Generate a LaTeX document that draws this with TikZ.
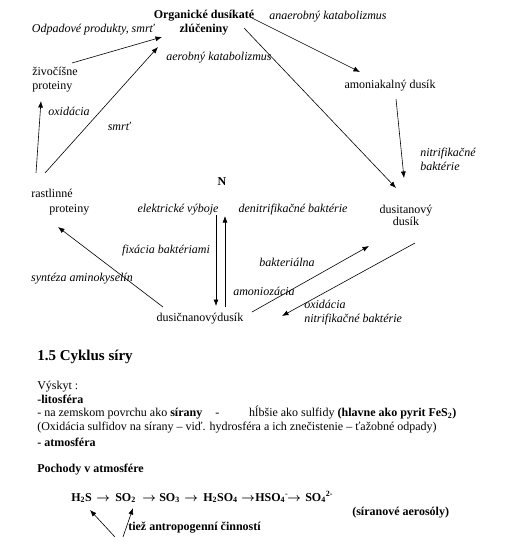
\documentclass[tikz,border=0pt]{standalone}
\usepackage{fontspec}
\setmainfont{Liberation Serif}
\usetikzlibrary{arrows.meta}
\newcommand{\sipka}{\mbox{\boldmath$\rightarrow$}}

\begin{document}
\fontsize{12}{13.5}\selectfont
\begin{tikzpicture}[x=1pt,y=-1pt,line width=0.6pt,
    >={Latex[length=6.5pt,width=5pt]},
    every node/.style={inner sep=0pt,anchor=base},
    lbl/.style={font=\itshape},
    hd/.style={font=\bfseries}]
\useasboundingbox (0,0) rectangle (529,542);

% nitrogen cycle
\node[hd,align=center] (org) at (204,32) {Organické dusíkaté\\zlúčeniny};
\node[lbl] (odpad) at (93,32) {Odpadové produkty, smrť};
\node[lbl] (aerob) at (219,60) {aerobný katabolizmus};
\node[lbl] (anaer) at (328,19) {anaerobný katabolizmus};
\node[align=left,anchor=base west] (zivo) at (32,89) {živočíšne\\proteiny};
\node[lbl] (oxid) at (69,115) {oxidácia};
\node[lbl] (smrt) at (119,130) {smrť};
\node (amon) at (390,88) {amoniakalný dusík};
\node[lbl,align=left,anchor=base west] (nitr) at (420,170) {nitrifikačné\\baktérie};
\node[align=center] (dusit) at (406,225) {dusitanový\\[-1.5pt]dusík};
\node[hd] (n) at (222,185) {N};
\node[align=left,anchor=base west] (rast) at (31,212) {rastlinné\\[1.5pt]\hspace*{18pt}proteiny};
\node[lbl] (elek) at (178,212) {elektrické výboje};
\node[lbl] (denit) at (293,212) {denitrifikačné baktérie};
\node[lbl] (fix) at (166,253) {fixácia baktériami};
\node[lbl] (synt) at (82,281) {syntéza aminokyselín};
\node[lbl] (bakt) at (287,266) {bakteriálna};
\node[lbl] (amonz) at (264,295) {amoniozácia};
\node (dusic) at (200,321) {dusičnanovýdusík};
\node[lbl,align=left,anchor=base west] (oxnit) at (304,322) {oxidácia\\nitrifikačné baktérie};

\draw[->] ([shift={(40,-26)}]zivo.base west) -- ([shift={(-42,5)}]org.base);
\draw[->] ([shift={(14,-39)}]rast.base west) -- ([shift={(-46,15)}]org.base);
\draw[->] ([shift={(5,-39)}]rast.base west) -- ([shift={(9,12)}]zivo.base west);
\draw[->] ([shift={(48,-14)}]org.base) -- ([shift={(-30,-16)}]amon.base);
\draw[->] ([shift={(40,-4)}]org.base) -- ([shift={(-10,-37)}]dusit.base);
\draw[->] ([shift={(6,11)}]amon.base) -- ([shift={(-2,-47)}]dusit.base);
\draw[->] ([shift={(-6,30)}]n.base) -- ([shift={(16,-15)}]dusic.base);
\draw[->] ([shift={(25,-14)}]dusic.base) -- ([shift={(3,31)}]n.base);
\draw[->] ([shift={(-37,-14)}]dusic.base) -- ([shift={(27,15)}]rast.base west);
\draw[->] ([shift={(52,-9)}]dusic.base) -- ([shift={(-37,21)}]dusit.base);
\draw[->] ([shift={(9,18)}]dusit.base) -- ([shift={(82,-5)}]dusic.base);

% sulphur cycle text
\node[anchor=base west,font=\fontsize{15}{17}\selectfont\bfseries] (nadpis) at (37,360) {1.5 Cyklus síry};
\node[align=left,anchor=base west] (vyskyt) at (37,446) {Výskyt :\\
\textbf{-litosféra}\\
- na zemskom povrchu ako \textbf{sírany}\hspace{13pt}-\hspace{30pt}hĺbšie ako sulfidy \textbf{(hlavne ako pyrit FeS\textsubscript{2})}\\
(Oxidácia sulfidov na sírany – viď. hydrosféra a ich znečistenie – ťažobné odpady)\\[2.5pt]
\textbf{- atmosféra}};
\node[hd,anchor=base west] (pochody) at (37,472) {Pochody v atmosfére};
\node[hd,anchor=base west] (h2s) at (71,501) {H\textsubscript{2}S};
\node[hd,anchor=base west] (so2) at (115,501) {SO\textsubscript{2}};
\node[hd,anchor=base west] (so3) at (159,501) {SO\textsubscript{3}};
\node[hd,anchor=base west] (h2so4) at (203,501) {H\textsubscript{2}SO\textsubscript{4}};
\node[hd,anchor=base west] (hso4) at (255,501) {HSO\textsubscript{4}\textsuperscript{-}};
\node[hd,anchor=base west] (so4) at (305,501) {SO\textsubscript{4}\textsuperscript{2-}};
\foreach \ax in {96,142,184,241,287}
  \node[anchor=base west] at (\ax,501) {\sipka};
\node[hd,anchor=base west] (aeros) at (352,515) {(síranové aerosóly)};
\node[hd,anchor=base west] (antrop) at (128,530) {tiež antropogenní činností};
\coordinate (zdrojA) at (115,537);
\coordinate (zdrojB) at (123,537);
\draw[->] (zdrojA) -- ([shift={(19,9)}]h2s.base west);
\draw[->] (zdrojB) -- ([shift={(18,7)}]so2.base west);
\end{tikzpicture}
\end{document}
